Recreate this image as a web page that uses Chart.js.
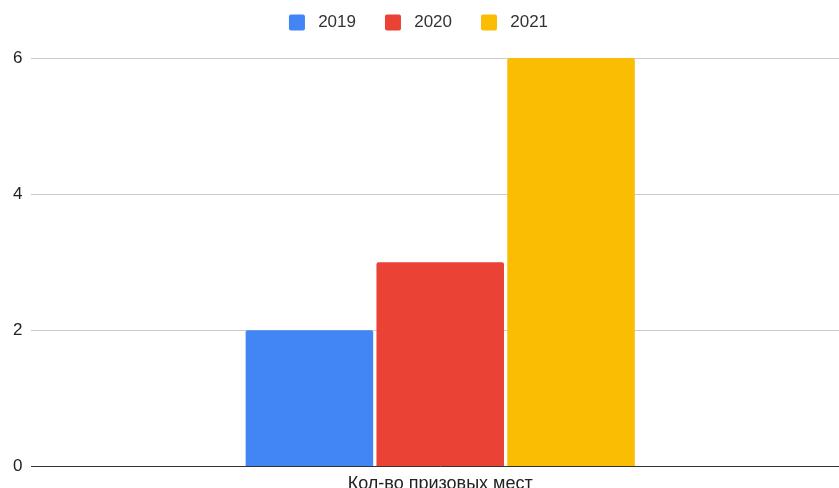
<!DOCTYPE html>
<html>
<head>
<meta charset="utf-8">
<script src="https://cdn.jsdelivr.net/npm/chart.js@4.4.0/dist/chart.umd.min.js"></script>
<style>
  html, body { margin: 0; padding: 0; background: #fff; }
  #wrap { width: 839px; height: 488px; overflow: hidden; }
</style>
</head>
<body>
<div id="wrap"><canvas id="prizeChart" width="849" height="488"></canvas></div>
<script>
  // data
  const categories = ["Кол-во призовых мест"];
  const years = ["2019", "2020", "2021"];
  const values2019 = [2];
  const values2020 = [3];
  const values2021 = [6];
  const yTicks = [0, 2, 4, 6];

  const colors = ["#4285F4", "#EA4335", "#FBBC04"];
  const seriesValues = [values2019, values2020, values2021];

  // give the legend more room below and nudge it left a bit
  const legendTweak = {
    id: "legendTweak",
    beforeInit(chart) {
      const fit = chart.legend.fit;
      chart.legend.fit = function () {
        fit.call(this);
        this.height += 17;
      };
    },
    afterLayout(chart) {
      chart.legend.left -= 8;
      chart.legend.right -= 8;
    }
  };

  const ctx = document.getElementById("prizeChart").getContext("2d");

  new Chart(ctx, {
    type: "bar",
    data: {
      labels: categories,
      datasets: years.map((y, i) => ({
        label: y,
        data: seriesValues[i],
        backgroundColor: colors[i],
        borderRadius: 2,
        borderSkipped: "bottom",
        categoryPercentage: 0.48,
        barPercentage: 0.975
      }))
    },
    options: {
      responsive: false,
      animation: false,
      layout: { padding: { top: -15, left: 4, right: 0, bottom: -14 } },
      plugins: {
        legend: {
          position: "top",
          labels: {
            boxWidth: 16,
            boxHeight: 16,
            padding: 29,
            useBorderRadius: true,
            borderRadius: 2,
            color: "#333",
            font: { family: "Liberation Sans, Arial", size: 17 },
            generateLabels: chart => {
              const items = Chart.defaults.plugins.legend.labels.generateLabels(chart);
              items.forEach(it => { it.text = " " + it.text; });
              return items;
            }
          }
        },
        tooltip: { enabled: false }
      },
      scales: {
        x: {
          grid: { display: false, drawTicks: false },
          border: { display: true, color: "#333", width: 1 },
          ticks: {
            padding: 7,
            color: "#222",
            font: { family: "Liberation Sans, Arial", size: 18 }
          }
        },
        y: {
          min: yTicks[0],
          max: yTicks[yTicks.length - 1],
          afterBuildTicks: axis => { axis.ticks = yTicks.map(v => ({ value: v })); },
          grid: { color: "#cccccc", drawTicks: false },
          border: { display: false },
          ticks: {
            padding: 9,
            color: "#222",
            font: { family: "Liberation Sans, Arial", size: 17 }
          }
        }
      }
    },
    plugins: [legendTweak]
  });
</script>
</body>
</html>
